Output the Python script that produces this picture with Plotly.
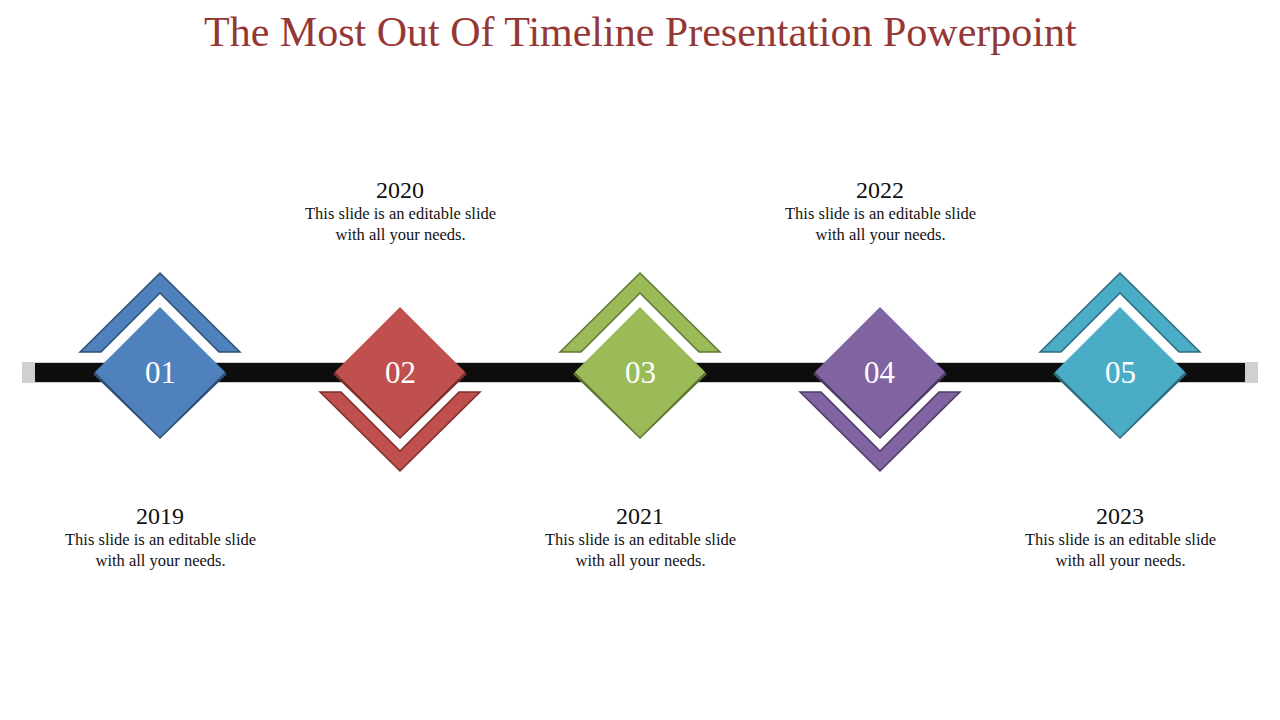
import plotly.graph_objects as go

years = ["2019", "2020", "2021", "2022", "2023"]
numbers = ["01", "02", "03", "04", "05"]
colors = ["#4F81BD", "#C0504D", "#9BBB59", "#8064A2", "#4BACC6"]
dark = ["#2E4E73", "#7A2E2C", "#5E7533", "#4B3A63", "#2D6B7C"]
desc = "This slide is an editable slide<br>with all your needs."

FONT = "Liberation Serif"
fig = go.Figure()
shapes = []
cy = 372
shapes.append(dict(type="rect", x0=22, x1=1258, y0=362, y1=383, fillcolor="#D0D0D0", line_width=0, layer="below"))
shapes.append(dict(type="rect", x0=35, x1=1245, y0=363, y1=382, fillcolor="#0D0D0D", line_width=0))
ann = []
for i in range(len(years)):
    cx = 160 + 240 * i
    up = i % 2 == 0
    s = -1 if up else 1
    pts = [(cx - 80, cy + s * 20), (cx, cy + s * 99), (cx + 80, cy + s * 20),
           (cx + 59, cy + s * 20), (cx, cy + s * 79), (cx - 59, cy + s * 20)]
    path = "M " + " L ".join(f"{x},{y}" for x, y in pts) + " Z"
    shapes.append(dict(type="path", path=path, fillcolor=colors[i], line=dict(color=dark[i], width=1.5)))
    shapes.append(dict(type="path", path=f"M {cx},{cy-63} L {cx+67},{cy+2} L {cx},{cy+67} L {cx-67},{cy+2} Z",
                       fillcolor=dark[i], line_width=0))
    shapes.append(dict(type="path", path=f"M {cx},{cy-65} L {cx+65},{cy} L {cx},{cy+65} L {cx-65},{cy} Z",
                       fillcolor=colors[i], line_width=0))
    ann.append(dict(x=cx, y=cy, text=numbers[i], showarrow=False, font=dict(family=FONT, size=31, color="white")))
    ty = 190 if not up else 516
    ann.append(dict(x=cx, y=ty, text=years[i], showarrow=False, font=dict(family=FONT, size=24, color="#111")))
    ann.append(dict(x=cx, y=ty + 34, text=desc, showarrow=False, font=dict(family=FONT, size=16.5, color="#111")))
ann.append(dict(x=640, y=32, text="The Most Out Of Timeline Presentation Powerpoint", showarrow=False,
                font=dict(family=FONT, size=42, color="#953735")))

fig.update_layout(width=1280, height=720, margin=dict(l=0, r=0, t=0, b=0),
                  plot_bgcolor="white", paper_bgcolor="white", shapes=shapes, annotations=ann,
                  xaxis=dict(range=[8, 1288], visible=False, fixedrange=True),
                  yaxis=dict(range=[728, 8], visible=False, fixedrange=True),
                  showlegend=False)
fig.write_html("out.html")
